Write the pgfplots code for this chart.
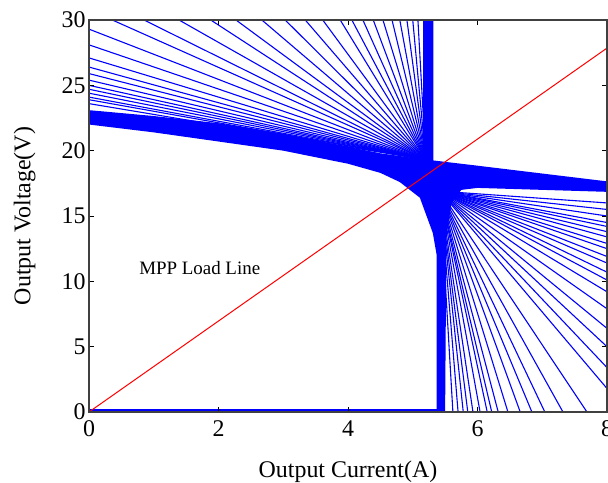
\documentclass[border=0pt]{standalone}
\usepackage{fontspec}
\setmainfont{Liberation Serif}
\usepackage{pgfplots}
\pgfplotsset{compat=1.18}
\begin{document}
\begin{tikzpicture}
\begin{axis}[
    scale only axis, width=518bp, height=392bp,
    xmin=0, xmax=8, ymin=0, ymax=30,
    xtick={0,2,4,6,8}, ytick={0,5,10,15,20,25,30},
    tick align=inside, major tick length=5bp,
    axis line style={line width=1.2bp, black!75},
    every tick/.style={black, line width=0.9bp},
    tick label style={font=\fontsize{24}{28}\selectfont},
    /pgf/number format/assume math mode=true,
    xticklabel style={yshift=-5bp},
    label style={font=\fontsize{24}{28}\selectfont},
    xlabel={Output Current(A)}, ylabel={Output Voltage(V)},
    x label style={at={(axis description cs:0.5,-0.153)}, anchor=center},
    y label style={at={(axis description cs:-0.124,0.5)}, anchor=center},
    axis on top,
    fan/.style={blue, line width=1.1bp, forget plot},
]
% PV characteristic: solid band with the two vertical/horizontal branches
\addplot[fill=blue, draw=none, forget plot] coordinates {
    (0,23.1) (1,22.65) (2,22.1) (3,21.3) (3.5,20.8) (4,20.3) (4.5,19.8)
    (5.0,19.45) (5.16,19.45) (5.16,30) (5.32,30) (5.32,19.25)
    (6,18.85) (7,18.25) (8,17.65) (8,16.85) (7,17.0) (6,17.15) (5.75,17.0)
    (5.6,16.0) (5.52,13.5) (5.5,0) (5.37,0) (5.37,12.0) (5.31,13.7) (5.11,16.4)
    (4.8,17.6) (4.5,18.3) (4,19.0) (3,20.0) (2,20.7) (1,21.4) (0,22.0)
} -- cycle;
\addplot[blue, line width=2.5bp, forget plot] coordinates {(0,0.12) (5.4,0.12)};

% upper family, from the voltage axis
\pgfplotsinvokeforeach{29.3,28.1,27.1,26.4,25.9,25.4,25.0,24.7,24.4,24.1,23.9,23.6}{
    \addplot[fan] coordinates {(0,#1) (5.2,19.3)};
}
% upper family, from the top edge
\pgfplotsinvokeforeach{0.36,0.85,1.39,1.88,2.27,2.67,3.03,3.34,3.61,3.88,4.06,4.23,4.39,4.54,4.68,4.80,4.91,5.00,5.08}{
    \addplot[fan] coordinates {(#1,30) (5.2,19.3)};
}
% lower family, to the right edge
\pgfplotsinvokeforeach{16.0,15.5,15.0,14.5,14.2,13.8,13.4,12.9,12.5,11.9,11.4,10.7,10.1,9.2,7.9,6.4,5.0,3.4,1.8}{
    \addplot[fan] coordinates {(5.42,16.9) (8,#1)};
}
% lower family, to the current axis
\pgfplotsinvokeforeach{5.62,5.70,5.78,5.85,5.93,6.04,6.15,6.22,6.32,6.47,6.66,6.84,7.04,7.32,7.69}{
    \addplot[fan] coordinates {(5.42,16.9) (#1,0)};
}

% MPP load line
\addplot[red, line width=1bp] coordinates {(0,0) (8,27.85)};
\node[font=\fontsize{19}{22}\selectfont] at (axis cs:1.71,11.0) {MPP Load Line};
\end{axis}
\pgfresetboundingbox
\path[use as bounding box] (-89bp,-71bp) rectangle (519bp,412bp);
\end{tikzpicture}
\end{document}
